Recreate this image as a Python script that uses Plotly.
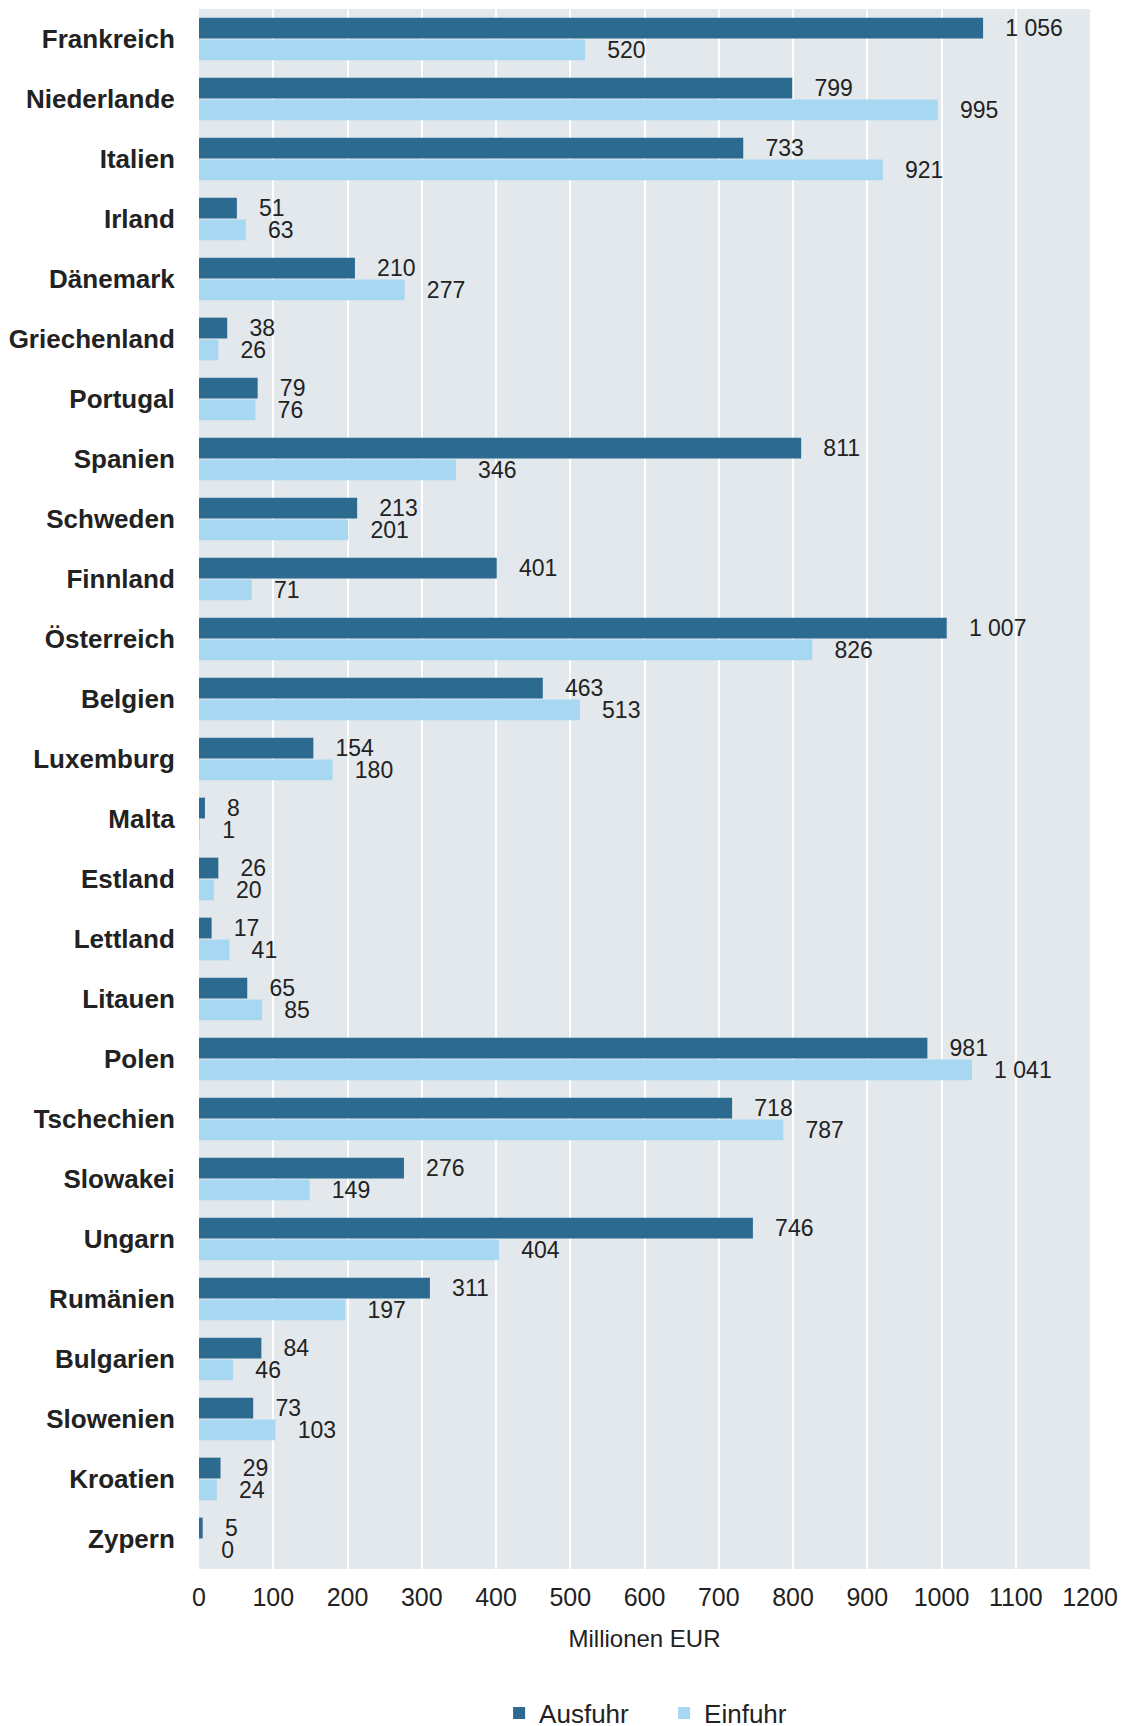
import plotly.graph_objects as go

countries = ["Frankreich", "Niederlande", "Italien", "Irland", "Dänemark", "Griechenland",
             "Portugal", "Spanien", "Schweden", "Finnland", "Österreich", "Belgien",
             "Luxemburg", "Malta", "Estland", "Lettland", "Litauen", "Polen",
             "Tschechien", "Slowakei", "Ungarn", "Rumänien", "Bulgarien", "Slowenien",
             "Kroatien", "Zypern"]
ausfuhr = [1056, 799, 733, 51, 210, 38, 79, 811, 213, 401, 1007, 463, 154, 8, 26, 17, 65,
           981, 718, 276, 746, 311, 84, 73, 29, 5]
einfuhr = [520, 995, 921, 63, 277, 26, 76, 346, 201, 71, 826, 513, 180, 1, 20, 41, 85,
           1041, 787, 149, 404, 197, 46, 103, 24, 0]
series_names = ["Ausfuhr", "Einfuhr"]
tick_vals = list(range(0, 1300, 100))
tick_text = [str(v) for v in tick_vals]

DARK = "#2c6a8f"
LIGHT = "#a8d8f1"
FONT = "Liberation Sans, Arial, sans-serif"
PAD = "\u00a0\u00a0\u00a0"


def fmt(v):
    return PAD + f"{v:,}".replace(",", "\u00a0")


fig = go.Figure()
for name, vals, col in zip(series_names, [ausfuhr, einfuhr], [DARK, LIGHT]):
    fig.add_trace(go.Bar(
        y=countries, x=vals, orientation="h", name=name,
        marker=dict(color=col, line=dict(width=0)),
        text=[fmt(v) for v in vals], textposition="outside", cliponaxis=False,
        constraintext="none", textangle=0,
        textfont=dict(family=FONT, size=23, color="#222222"),
    ))

fig.update_layout(
    width=1122, height=1750,
    margin=dict(l=191, r=40, t=1, b=189),
    barmode="group", bargap=0.27, bargroupgap=0.05,
    paper_bgcolor="white", plot_bgcolor="#e3e8ec",
    font=dict(family=FONT, size=24, color="#222222"),
    showlegend=True,
    legend=dict(orientation="h", x=0.522, xanchor="center", y=-0.0923, yanchor="middle",
                font=dict(size=26, color="#222222"), traceorder="normal",
                itemwidth=30, entrywidth=120, entrywidthmode="pixels"),
    xaxis=dict(range=[0, 1200], tickvals=tick_vals, ticktext=tick_text,
               showgrid=True, gridcolor="white", gridwidth=2, zeroline=False,
               ticks="outside", ticklen=6, tickcolor="rgba(0,0,0,0)",
               tickfont=dict(size=25, color="#222222"),
               title=dict(text="Millionen EUR", standoff=20,
                          font=dict(size=24, color="#222222")),
               fixedrange=True),
    yaxis=dict(autorange="reversed", showgrid=False, zeroline=False,
               ticks="outside", ticklen=18, tickcolor="rgba(0,0,0,0)",
               tickfont=dict(size=26, color="#222222", family=FONT, weight="bold"),
               fixedrange=True),
)

fig.write_html("out.html")
